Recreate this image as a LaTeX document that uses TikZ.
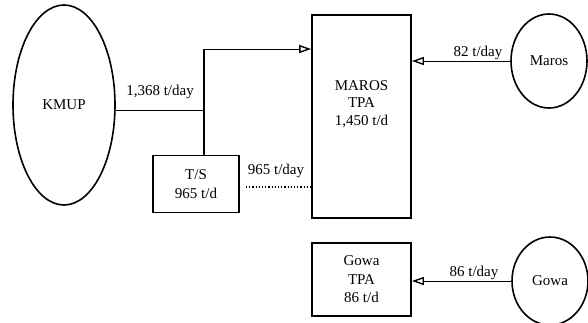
\documentclass[tikz,border=0pt]{standalone}
\usepackage{fontspec}
\setmainfont{Liberation Serif}
\usetikzlibrary{shapes.geometric,arrows.meta,calc}
\begin{document}
\begin{tikzpicture}[x=1pt,y=-1pt,
  box/.style={draw,rectangle,line width=1.8pt,inner sep=0pt,align=center,font=\fontsize{15}{18.5}\selectfont},
  src/.style={draw,ellipse,line width=1.6pt,inner sep=0pt,font=\fontsize{15}{18}\selectfont},
  lbl/.style={font=\fontsize{15}{17}\selectfont,inner sep=1pt},
  flow/.style={line width=1pt},
  tipped/.style={-{Triangle[open,length=12pt,width=8pt,line width=1.4pt]}}
]
\useasboundingbox (0,0) rectangle (588,322);
% sources
\node[src,minimum width=102pt,minimum height=200pt] (kmup) at (64,105) {KMUP};
\node[src,minimum width=76pt,minimum height=94pt] (marosC) at (549,61) {Maros};
\node[src,minimum width=76pt,minimum height=88pt] (gowaC) at (550,281) {Gowa};
% boxes
\node[box,minimum width=86pt,minimum height=57pt] (ts) at (196,184) {T/S\\965 t/d};
\node[box,minimum width=99pt,minimum height=203pt] (marosB) at (361.5,116.5) {};
\node[font=\fontsize{15}{17.5}\selectfont,align=center] (marosT) at (361.5,104) {MAROS\\TPA\\1,450 t/d};
\node[box,minimum width=99pt,minimum height=73pt] (gowaB) at (361.5,279.5) {Gowa\\TPA\\86 t/d};
% junction
\coordinate (j) at (204,110);
\coordinate (jt) at (204,49);
\draw[flow] (kmup.east |- j) -- (j);
\draw[line width=2pt] (jt) -- (ts.north -| jt);
\draw[flow,tipped] (jt) -- (jt -| marosB.west);
\node[lbl] (l1) at (160,92) {1,368 t/day};
% T/S to MAROS dotted
\coordinate (d0) at ($(ts.east)+(6,3)$);
\draw[line width=1.2pt,dotted] (d0) -- (d0 -| marosB.west);
\node[lbl] (l2) at (276,171) {965 t/day};
% Maros and Gowa flows
\draw[flow,tipped] (marosC.west) -- (marosC.west -| marosB.east);
\node[lbl,anchor=south] (l3) at (478,61) {82 t/day};
\draw[flow,tipped] (gowaC.west) -- (gowaC.west -| gowaB.east);
\node[lbl,anchor=south] (l4) at (474,281) {86 t/day};
\end{tikzpicture}
\end{document}
